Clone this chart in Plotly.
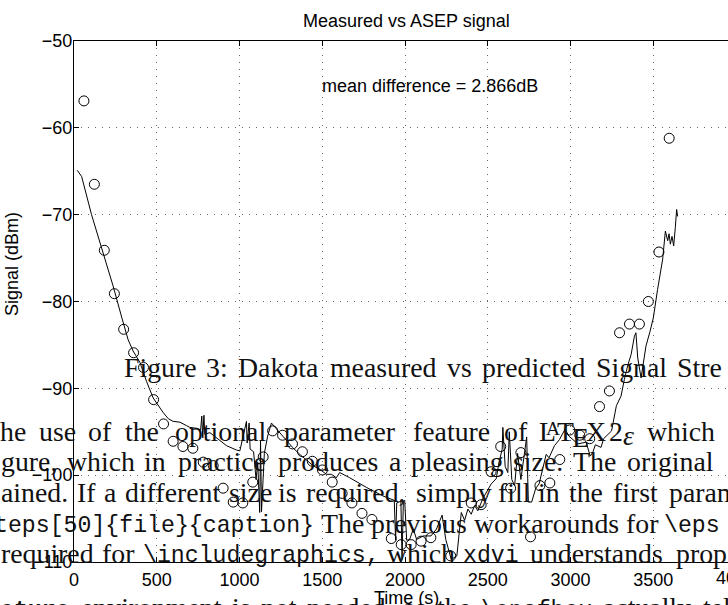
import plotly.graph_objects as go

# ---------------- data ----------------
pred_t = [20, 46, 106, 176, 236, 291, 327, 357, 398, 438, 478, 539, 570, 599, 640, 680, 700,
          740, 765, 772, 778, 785, 790, 821, 861, 921, 981, 1002, 1042, 1046, 1058, 1064, 1085,
          1100, 1110, 1122, 1127, 1133, 1150, 1170, 1193, 1243, 1283, 1320, 1364, 1405, 1444,
          1490, 1525, 1555, 1585, 1605, 1666, 1766, 1788, 1867, 1935, 1943, 1950, 1975, 1982,
          1990, 1998, 2010, 2028, 2050, 2070, 2110, 2157, 2190, 2224, 2246, 2279, 2313, 2340,
          2360, 2380, 2400, 2420, 2440, 2470, 2500, 2521, 2551, 2567, 2587, 2591, 2605, 2621,
          2630, 2645, 2662, 2680, 2700, 2735, 2745, 2765, 2790, 2810, 2853, 2870, 2903, 2933,
          2967, 2990, 3044, 3094, 3119, 3134, 3150, 3184, 3200, 3248, 3277, 3305, 3325, 3345,
          3366, 3386, 3395, 3406, 3426, 3456, 3478, 3500, 3526, 3556, 3573, 3587, 3595, 3603,
          3613, 3623, 3633, 3641, 3647]
pred_s = [-64.9, -65.6, -70.0, -74.4, -78.2, -82.0, -84.4, -85.7, -87.0, -89.2, -91.1, -92.8, -93.5,
          -93.8, -93.9, -94.3, -94.5, -94.6, -94.8, -93.2, -95.7, -93.1, -95.3, -95.1, -95.7, -96.6,
          -97.1, -97.2, -93.8, -96.3, -94.0, -97.0, -97.3, -100.5, -98.5, -104.3, -96.0, -104.2,
          -97.5, -95.5, -94.0, -95.1, -96.1, -96.8, -97.6, -98.3, -98.9, -99.4, -99.9, -99.9,
          -100.3, -99.7, -100.3, -101.4, -101.6, -102.4, -102.9, -107.5, -103.2, -103.0, -109.7,
          -103.0, -102.9, -107.5, -107.4, -106.2, -107.4, -107.0, -107.0, -106.2, -104.6, -107.4,
          -109.7, -109.3, -104.3, -105.2, -103.9, -104.5, -103.5, -104.1, -102.7, -101.6, -101.0,
          -100.4, -98.6, -97.0, -94.5, -99.0, -99.7, -95.0, -100.5, -101.2, -97.5, -100.5, -95.6,
          -103.1, -103.1, -101.5, -101.0, -97.6, -98.0, -96.6, -95.9, -94.7, -95.5, -96.4, -96.2,
          -97.8, -97.4, -96.5, -96.8, -95.8, -94.9, -92.0, -90.9, -89.0, -87.4, -86.1, -84.0,
          -83.6, -86.5, -88.8, -85.1, -83.6, -81.9, -78.6, -75.2, -71.9, -73.0, -72.2, -73.4,
          -72.5, -73.6, -71.5, -69.4, -70.2]

meas_t = [60, 123, 183, 244, 300, 360, 420, 481, 541, 599, 658, 718, 781, 841, 901, 962, 1020,
          1080, 1143, 1200, 1260, 1320, 1380, 1440, 1501, 1560, 1620, 1679, 1740, 1800, 1917,
          1977, 2037, 2097, 2156, 2276, 2400, 2460, 2520, 2578, 2638, 2700, 2758, 2815, 2875,
          2935, 2995, 3056, 3116, 3175, 3235, 3296, 3356, 3416, 3470, 3534, 3596]
meas_s = [-56.9, -66.5, -74.1, -79.1, -83.2, -85.9, -87.6, -91.3, -94.1, -96.1, -96.7, -96.9,
          -98.5, -98.9, -101.5, -103.1, -103.2, -100.8, -97.9, -94.9, -95.4, -96.4, -97.3, -98.4,
          -99.4, -100.8, -102.1, -103.2, -104.4, -105.1, -107.3, -108.0, -108.0, -107.6, -107.2,
          -109.3, -103.2, -103.4, -99.6, -96.7, -101.5, -97.4, -107.1, -101.2, -100.9, -98.2,
          -94.8, -95.4, -95.8, -92.1, -90.3, -83.6, -82.6, -82.6, -80.0, -74.3, -61.2]

x_ticks = [0, 500, 1000, 1500, 2000, 2500, 3000, 3500]
y_ticks = [-110, -100, -90, -80, -70, -60, -50]
x_cut_tick = "4000"

title_text = "Measured vs ASEP signal"
note_text = "mean difference = 2.866dB"
x_label = "Time (s)"
y_label = "Signal (dBm)"

# page text that sits on top of the figure
page_lines = [
    [("Figure", "rm"), ("3:", "rm"), ("Dakota", "rm"), ("measured", "rm"), ("vs", "rm"),
     ("predicted", "rm"), ("Signal", "rm"), ("Stre", "rm")],
    [("he", "rm"), ("use", "rm"), ("of", "rm"), ("the", "rm"), ("optional", "rm"),
     ("parameter", "rm"), ("feature", "rm"), ("of", "rm"), ("LaTeXe", "logo"), ("which", "rm")],
    [(w, "rm") for w in "gure, which in practice produces a pleasing size. The original".split()],
    [(w, "rm") for w in "ained. If a different size is required, simply fill in the first param".split()],
    [("teps[50]{file}{caption}", "tt"), ("The", "rm"), ("previous", "rm"), ("workarounds", "rm"),
     ("for", "rm"), ("\\eps", "tt")],
    [("required", "rm"), ("for", "rm"), ("\\includegraphics,", "tt"), ("which", "rm"),
     ("xdvi", "tt"), ("understands", "rm"), ("prop", "rm")],
    [("cture", "ttb"), ("environment", "rm"), ("is", "rm"), ("not", "rm"), ("needed,", "rm"),
     ("as", "rm"), ("the", "rm"), ("\\epsfbox", "tt"), ("actually", "rm"), ("tell", "rm")],
]
# (baseline px, start px, gap px) for each page line
page_layout = [(377, 123, 8.8), (440.7, 0, 13.0), (471, 0, 9.6), (501.7, 0, 8.2),
               (532.5, -6, 5.5), (562.5, 0, 8.0), (617, 0, 9.0)]

# ---------------- geometry ----------------
W, H = 728, 605
ML, MR, MT, MB = 74, 0, 41, 43
PW, PH = W - ML - MR, H - MT - MB
X_PER_S = 579.3 / 3500.0
x_max = PW / X_PER_S


def px(x):
    return (x - ML) / PW


def py(y):
    return (H - MB - y) / PH


SANS = "Liberation Sans"
SERIF = "Liberation Serif"
MONO = "Liberation Mono"

CMR = dict(a=.5, b=.5556, c=.4444, d=.5556, e=.4444, f=.3056, g=.5, h=.5556, i=.2778, j=.3056,
           k=.5278, l=.2778, m=.8333, n=.5556, o=.5, p=.5556, q=.5278, r=.3917, s=.3944, t=.3889,
           u=.5556, v=.5278, w=.7222, x=.5278, y=.5278, z=.4444,
           A=.75, D=.7639, E=.6806, F=.6528, I=.3611, L=.625, S=.5556, T=.7222, X=.75)
CMR.update({",": .2778, ".": .2778, ":": .2778, "3": .5, "2": .5})
EM = 26.5
RM_SIZE = 27.8
TT_SIZE = 23.2
LOGO = [("L", 0, .625, 0, 1), ("A", .265, .525, .205, .7), ("T", .64, .722, 0, 1),
        ("E", 1.195, .681, -.215, 1), ("X", 1.751, .75, 0, 1), ("2", 2.651, .5, 0, 1),
        ("<i>ε</i>", 3.151, .406, -.15, 1)]


def rm_width(word):
    w = 0.0
    i = 0
    while i < len(word):
        if word[i:i + 2] in ("fi", "fl"):
            w += .5556
            i += 2
            continue
        if word[i:i + 2] == "ff":
            w += .5833
            i += 2
            continue
        w += CMR.get(word[i], .5)
        i += 1
    return w * EM


def word_width(word, style):
    if style.startswith("tt"):
        return len(word) * .525 * EM
    if style == "logo":
        return 3.557 * EM
    return rm_width(word)


annotations = []


def add_text(text, cx, baseline, family, size, ratio, **kw):
    annotations.append(dict(
        xref="paper", yref="paper", x=px(cx), y=py(baseline - ratio * size),
        xanchor="center", yanchor="middle", text=text, showarrow=False,
        font=dict(family=family, size=size, color="#111111"), **kw))


for words, (base, x0, gap) in zip(page_lines, page_layout):
    x = x0
    for word, style in words:
        ww = word_width(word, style)
        if style == "logo":
            for ch, dx, w, raise_em, sc in LOGO:
                add_text(ch, x + (dx + w / 2) * EM, base - raise_em * EM, SERIF,
                         RM_SIZE * sc, .3375)
        elif style == "tt":
            add_text(word, x + ww / 2, base, MONO, TT_SIZE, .2665)
        elif style == "ttb":
            add_text("<b>" + word + "</b>", x + ww / 2, base, MONO, TT_SIZE, .2665)
        else:
            add_text(word, x + ww / 2, base, SERIF, RM_SIZE, .3375)
        x += ww + gap

# chart texts
chart_anns = [
    dict(text=title_text, x=px(406), y=py(21), size=18),
    dict(text=note_text, x=px(430), y=py(86), size=18),
    dict(text=x_label, x=px(406), y=py(598), size=18),
    dict(text=x_cut_tick, x=px(ML + 4000 * X_PER_S), y=py(577.5), size=18),
]
for a in chart_anns:
    annotations.append(dict(xref="paper", yref="paper", x=a["x"], y=a["y"], xanchor="center",
                            yanchor="middle", text=a["text"], showarrow=False,
                            font=dict(family=SANS, size=a["size"], color="black")))
annotations.append(dict(xref="paper", yref="paper", x=px(12), y=py(264), xanchor="center",
                        yanchor="middle", text=y_label, textangle=-90, showarrow=False,
                        font=dict(family=SANS, size=18, color="black")))

fig = go.Figure()
fig.add_trace(go.Scatter(x=pred_t, y=pred_s, mode="lines", line=dict(color="black", width=1),
                         showlegend=False, hoverinfo="skip"))
fig.add_trace(go.Scatter(x=meas_t, y=meas_s, mode="markers", showlegend=False,
                         marker=dict(symbol="circle-open", size=10, color="black",
                                     line=dict(width=1, color="black"))))

axis_common = dict(showline=True, linecolor="black", linewidth=1, ticks="inside", ticklen=5,
                   tickcolor="black", tickwidth=1, showgrid=True, gridcolor="#666666",
                   gridwidth=1, griddash="1px,6px", zeroline=False,
                   tickfont=dict(family=SANS, size=18, color="black"))
fig.update_xaxes(range=[0, x_max], tickvals=x_ticks, ticktext=[str(v) for v in x_ticks],
                 mirror="ticks", ticklabelstandoff=1, **axis_common)
fig.update_yaxes(range=[-110, -50], tickvals=y_ticks, mirror=False, ticklabelstandoff=-3,
                 **axis_common)

fig.update_layout(width=W, height=H, margin=dict(l=ML, r=MR, t=MT, b=MB),
                  paper_bgcolor="white", plot_bgcolor="white", showlegend=False,
                  annotations=annotations)

fig.write_html("out.html", config={"displayModeBar": False},
               post_script="document.body.style.margin='0';document.body.style.overflow='hidden';")
